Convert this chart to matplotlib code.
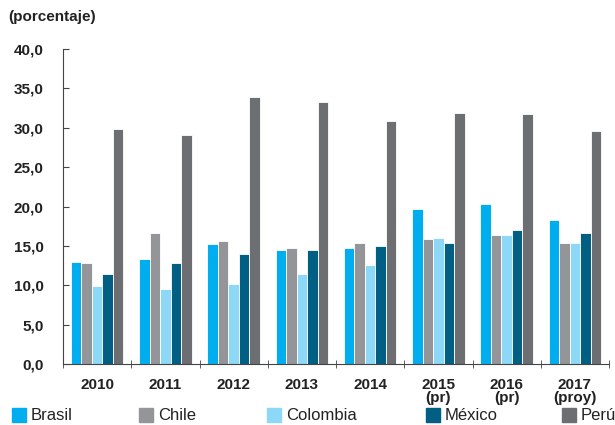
import numpy as np
import matplotlib.pyplot as plt
from matplotlib.patches import Rectangle

plt.rcParams['font.family'] = ['Liberation Sans', 'DejaVu Sans']

# datos
anios = ['2010', '2011', '2012', '2013', '2014', '2015\n(pr)', '2016\n(pr)', '2017\n(proy)']
paises = ['Brasil', 'Chile', 'Colombia', 'México', 'Perú']
brasil = [13.0, 13.4, 15.3, 14.5, 14.8, 19.7, 20.3, 18.3]
chile = [12.8, 16.7, 15.7, 14.8, 15.4, 15.9, 16.4, 15.4]
colombia = [9.9, 9.5, 10.2, 11.4, 12.6, 16.0, 16.4, 15.4]
mexico = [11.4, 12.8, 14.0, 14.5, 15.0, 15.4, 17.0, 16.7]
peru = [29.8, 29.1, 33.9, 33.3, 30.9, 31.9, 31.7, 29.6]
colores = ['#00aeef', '#939598', '#8dd7f7', '#005f83', '#6d6e71']

series = [brasil, chile, colombia, mexico, peru]

fig = plt.figure(figsize=(6.15, 4.25), dpi=100)
ax = fig.add_axes([63/615, 1 - 364.3/425, 546/615, (364.3 - 48.9)/425])

x = np.arange(len(anios))
w = 0.154
for i, (vals, c) in enumerate(zip(series, colores)):
    ax.bar(x + (i - 2) * w, vals, w, color=c, edgecolor='white', linewidth=0.6)

ax.set_xlim(-0.5, len(anios) - 0.5)
ax.set_ylim(0, 40)
ax.set_yticks(np.arange(0, 41, 5))
ax.set_yticklabels([f'{v:.1f}'.replace('.', ',') for v in np.arange(0, 41, 5)])
ax.set_xticks(x)
ax.set_xticklabels(anios, linespacing=0.85)
ax.set_xticks(np.arange(-0.5, len(anios)), minor=True)
ax.tick_params(axis='x', which='major', length=0, pad=10, labelsize=11, labelcolor='#222222')
ax.tick_params(axis='x', which='minor', direction='inout', length=6, color='#444444')
ax.tick_params(axis='y', direction='in', length=4, color='#444444', pad=14,
               labelsize=11, labelcolor='#222222')
for lab in ax.get_yticklabels() + ax.get_xticklabels():
    lab.set_fontweight('bold')
ax.spines['top'].set_visible(False)
ax.spines['right'].set_visible(False)
ax.spines['left'].set_color('#444444')
ax.spines['bottom'].set_color('#444444')

fig.text(8/615, 1 - 17/425, '(porcentaje)', fontsize=11, fontweight='bold',
         color='#222222', va='center')

# leyenda
pos_x = [12, 139, 267, 426, 562]
for px, nombre, c in zip(pos_x, paises, colores):
    fig.add_artist(Rectangle((px/615, 1 - 421.5/425), 14/615, 14/425,
                             transform=fig.transFigure, color=c))
    fig.text((px + 19)/615, 1 - 415/425, nombre, fontsize=12, color='#222222',
             va='center')

fig.savefig('out.png', dpi=100)
